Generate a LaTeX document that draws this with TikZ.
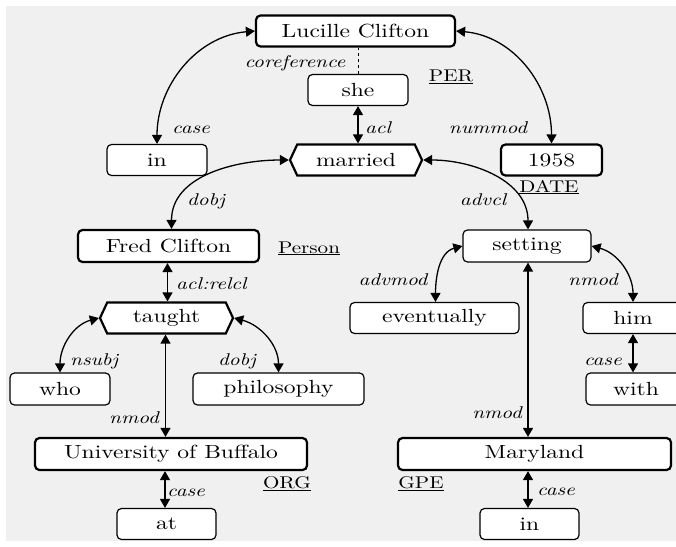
\documentclass[tikz,border=0pt]{standalone}
\usepackage{fontspec}
\setmainfont{lmroman10-regular.otf}[ItalicFont=lmroman10-italic.otf, FakeStretch=1.24]
\usetikzlibrary{arrows.meta,shapes.symbols}
\definecolor{canvas}{HTML}{F0F0F0}
\begin{document}
\begin{tikzpicture}[x=1pt,y=1pt,
  word/.style={draw, fill=white, rounded corners=4.5pt, minimum height=31pt, inner sep=0pt,
    font=\fontsize{19}{21}\selectfont},
  plain/.style={word, line width=1.2pt},
  heavy/.style={word, line width=2.2pt},
  verb/.style={heavy, sharp corners, signal, signal to=east and west, signal pointer angle=130},
  rel/.style={font=\fontsize{17}{19}\selectfont\itshape, inner sep=0pt, anchor=base},
  ent/.style={font=\fontsize{17}{19}\selectfont, inner sep=0pt, anchor=base},
  link/.style={line width=1.3pt, {Triangle[length=9pt,width=10pt]}-{Triangle[length=9pt,width=10pt]}},
  coref/.style={line width=1pt, dashed},
]
% canvas
\useasboundingbox (0,0) rectangle (676,-546);
\fill[canvas] (6,-6) rectangle (676,-541);

% words
\node[heavy, minimum width=199pt] (lc) at (355.5,-31) {Lucille Clifton};
\node[plain, minimum width=100pt] (she) at (358,-90) {she};
\node[plain, minimum width=100pt] (inA) at (157,-160) {in};
\node[verb, minimum width=132pt] (married) at (356,-160) {married};
\node[heavy, minimum width=101pt] (year) at (551.5,-160) {1958};
\node[heavy, minimum width=181pt, minimum height=32pt] (fred) at (168.5,-246) {Fred Clifton};
\node[plain, minimum width=128pt, minimum height=32pt] (setting) at (527,-246) {setting};
\node[verb, minimum width=133pt] (taught) at (166.5,-318) {taught};
\node[plain, minimum width=169pt] (eventually) at (434.5,-318) {eventually};
\node[plain, minimum width=100pt] (him) at (633,-318) {him};
\node[plain, minimum width=100pt, minimum height=32pt] (who) at (60,-389) {who};
\node[plain, minimum width=171pt, minimum height=32pt] (philosophy) at (278.5,-389) {philosophy};
\node[plain, minimum width=100pt, minimum height=32pt] (with) at (636,-389) {with};
\node[heavy, minimum width=272pt, minimum height=32pt] (univ) at (171,-454) {University of Buffalo};
\node[heavy, minimum width=273pt, minimum height=32pt] (maryland) at (534.5,-454) {Maryland};
\node[plain, minimum width=99pt] (at) at (166.5,-524) {at};
\node[plain, minimum width=99pt] (inB) at (529.5,-524) {in};

% dependency arcs
\draw[link] (lc.west) to[out=185,in=90] (inA.north);
\draw[link] (lc.east) to[out=-5,in=90] (year.north);
\draw[link] (she.south) -- (she.south |- married.north);
\draw[link] (married.west) to[out=180,in=90] ([xshift=3pt]fred.north);
\draw[link] (married.east) to[out=0,in=90] ([xshift=1pt]setting.north);
\draw[link] ([xshift=-1pt]fred.south) -- ([xshift=-1pt]fred.south |- taught.north);
\draw[link] (taught.west) to[out=195,in=90] (who.north);
\draw[link] (taught.east) to[out=-15,in=90] (philosophy.north);
\draw[link] ([xshift=-1pt]taught.south) -- ([xshift=-1pt]taught.south |- univ.north);
\draw[link] ([xshift=-6pt]univ.south) -- ([xshift=-6pt]univ.south |- at.north);
\draw[link] (setting.west) to[out=195,in=90] ([xshift=1pt]eventually.north);
\draw[link] (setting.east) to[out=-15,in=90] (him.north);
\draw[link] ([xshift=1pt]setting.south) -- ([xshift=1pt]setting.south |- maryland.north);
\draw[link] (him.south) -- (him.south |- with.north);
\draw[link] ([xshift=-6.5pt]maryland.south) -- ([xshift=-6.5pt]maryland.south |- inB.north);

% coreference link
\draw[coref] (she.north) -- (she.north |- lc.south);

% relation labels
\node[rel] (lcoref) at (295,-67) {coreference};
\node[rel] (lcaseA) at (191,-133) {case};
\node[rel, anchor=base west] (lacl) at (365,-133) {acl};
\node[rel] (lnummod) at (488,-133) {nummod};
\node[rel, anchor=base west] (ldobjA) at (187,-205) {dobj};
\node[rel] (ladvcl) at (483,-205) {advcl};
\node[rel, anchor=base west] (lrelcl) at (176,-289) {acl:relcl};
\node[rel, anchor=base west] (lnsubj) at (70,-365) {nsubj};
\node[rel] (ldobjB) at (237,-365) {dobj};
\node[rel, anchor=base east] (lnmodA) at (159,-423) {nmod};
\node[rel, anchor=base west] (lcaseB) at (167,-496) {case};
\node[rel] (ladvmod) at (393,-285) {advmod};
\node[rel] (lnmodB) at (593,-285) {nmod};
\node[rel, anchor=base east] (lcaseC) at (622,-365) {case};
\node[rel, anchor=base east] (lnmodC) at (522,-418) {nmod};
\node[rel, anchor=base west] (lcaseD) at (537,-495) {case};

% entity types
\node[ent] (tper) at (451,-81) {\underline{PER}};
\node[ent] (tdate) at (549,-192) {\underline{DATE}};
\node[ent] (tperson) at (309,-253) {\underline{Person}};
\node[ent] (torg) at (287,-488) {\underline{ORG}};
\node[ent] (tgpe) at (421,-488) {\underline{GPE}};
\end{tikzpicture}
\end{document}
